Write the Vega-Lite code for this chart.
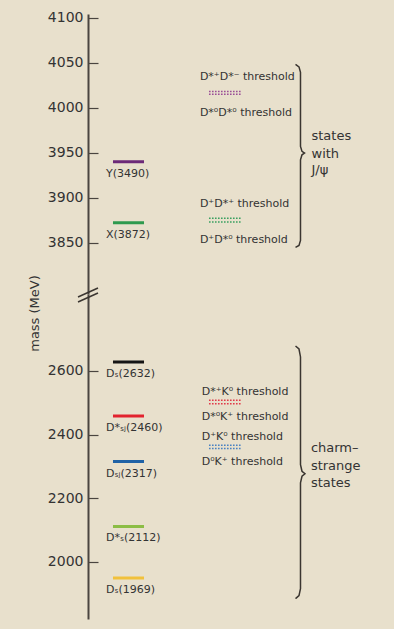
{
  "$schema": "https://vega.github.io/schema/vega-lite/v6.json",
  "background": "#e8e0cc",
  "padding": {"left": 27, "top": 10, "right": 6, "bottom": 11},
  "spacing": 0,
  "bounds": "flush",
  "resolve": {"scale": {"y": "independent", "color": "independent", "stroke": "independent"}},
  "config": {
    "font": "DejaVu Sans",
    "view": {"stroke": null},
    "axis": {
      "domainColor": "#4a4540", "domainWidth": 2,
      "tickColor": "#4a4540", "tickWidth": 1.2, "tickSize": -10,
      "labelColor": "#333333", "labelFont": "DejaVu Sans", "labelFontSize": 14, "labelPadding": 15,
      "grid": false,
      "titleColor": "#333333", "titleFont": "DejaVu Sans", "titleFontSize": 13, "titleFontWeight": "normal"
    }
  },
  "datasets": {
    "levelsTop": [
      {"state": "Y(3490)", "mass": 3940},
      {"state": "X(3872)", "mass": 3872}
    ],
    "levelsBottom": [
      {"state": "Dₛ(2632)", "mass": 2628},
      {"state": "D*ₛⱼ(2460)", "mass": 2458},
      {"state": "Dₛⱼ(2317)", "mass": 2315},
      {"state": "D*ₛ(2112)", "mass": 2111},
      {"state": "Dₛ(1969)", "mass": 1949}
    ],
    "thrTop": [
      {"label": "D*⁺D*⁻ threshold", "mass": 4018, "side": "above", "pair": "D*D*"},
      {"label": "D*⁰D*⁰ threshold", "mass": 4015, "side": "below", "pair": "D*D*"},
      {"label": "D⁺D*⁺ threshold", "mass": 3877, "side": "above", "pair": "DD*"},
      {"label": "D⁺D*⁰ threshold", "mass": 3873, "side": "below", "pair": "DD*"}
    ],
    "thrBottom": [
      {"label": "D*⁺K⁰ threshold", "mass": 2508, "side": "above", "pair": "D*K"},
      {"label": "D*⁰K⁺ threshold", "mass": 2497, "side": "below", "pair": "D*K"},
      {"label": "D⁺K⁰ threshold", "mass": 2366, "side": "above", "pair": "DK"},
      {"label": "D⁰K⁺ threshold", "mass": 2356, "side": "below", "pair": "DK"}
    ],
    "braceTop": [
      {"i": 1, "x": 69.17, "mass": 4048.1},
      {"i": 2, "x": 70.33, "mass": 4045.3},
      {"i": 3, "x": 70.83, "mass": 4039.2},
      {"i": 4, "x": 70.83, "mass": 3957.0},
      {"i": 5, "x": 71.33, "mass": 3951.4},
      {"i": 6, "x": 72.17, "mass": 3949.6},
      {"i": 7, "x": 71.33, "mass": 3947.6},
      {"i": 8, "x": 70.83, "mass": 3942.0},
      {"i": 9, "x": 70.83, "mass": 3852.6},
      {"i": 10, "x": 70.33, "mass": 3847.0},
      {"i": 11, "x": 69.17, "mass": 3844.8}
    ],
    "braceBottom": [
      {"i": 1, "x": 69.17, "mass": 2678.5},
      {"i": 2, "x": 70.33, "mass": 2669.0},
      {"i": 3, "x": 70.83, "mass": 2644.0},
      {"i": 4, "x": 70.83, "mass": 2305.0},
      {"i": 5, "x": 71.33, "mass": 2284.5},
      {"i": 6, "x": 72.33, "mass": 2276.6},
      {"i": 7, "x": 71.33, "mass": 2268.8},
      {"i": 8, "x": 70.83, "mass": 2248.4},
      {"i": 9, "x": 70.83, "mass": 1915.5},
      {"i": 10, "x": 70.33, "mass": 1893.6},
      {"i": 11, "x": 69.17, "mass": 1884.0}
    ],
    "groupTop": [
      {"word": "states", "mass": 3968},
      {"word": "with", "mass": 3949},
      {"word": "J/ψ", "mass": 3931}
    ],
    "groupBottom": [
      {"word": "charm–", "mass": 2358},
      {"word": "strange", "mass": 2302},
      {"word": "states", "mass": 2248}
    ],
    "axisBreak": [
      {"x": -3.33, "x2": 3.33, "mass": 2832.6, "mass2": 2860.8},
      {"x": -3.33, "x2": 3.33, "mass": 2816.9, "mass2": 2845.1}
    ]
  },
  "vconcat": [
    {
      "width": 300,
      "height": 280,
      "layer": [
        {
          "data": {"name": "levelsTop"},
          "mark": {"type": "rule", "strokeWidth": 3},
          "encoding": {
            "x": {"datum": 8.33, "type": "quantitative", "scale": {"domain": [0, 100], "nice": false, "zero": false}, "axis": null},
            "x2": {"datum": 18.67},
            "y": {"field": "mass", "type": "quantitative", "scale": {"domain": [3793, 4104], "nice": false, "zero": false},
                  "axis": {"values": [3850, 3900, 3950, 4000, 4050, 4100], "format": "d", "title": null}},
            "color": {"field": "state", "type": "nominal", "legend": null,
                      "scale": {"domain": ["Y(3490)", "X(3872)"], "range": ["#6c2a78", "#2e9a4e"]}}
          }
        },
        {
          "data": {"name": "levelsTop"},
          "mark": {"type": "text", "align": "left", "baseline": "middle", "dy": 12, "fontSize": 11, "color": "#333333"},
          "encoding": {
            "x": {"datum": 6, "type": "quantitative"},
            "y": {"field": "mass", "type": "quantitative"},
            "text": {"field": "state"}
          }
        },
        {
          "data": {"name": "thrTop"},
          "mark": {"type": "rule", "strokeWidth": 1.5, "strokeDash": [1.6, 1.4]},
          "encoding": {
            "x": {"datum": 40.33, "type": "quantitative"},
            "x2": {"datum": 51},
            "y": {"field": "mass", "type": "quantitative"},
            "stroke": {"field": "pair", "type": "nominal", "legend": null,
                       "scale": {"domain": ["D*D*", "DD*"], "range": ["#9a4f96", "#3aa060"]}}
          }
        },
        {
          "data": {"name": "thrTop"},
          "transform": [{"filter": "datum.side === 'above'"}],
          "mark": {"type": "text", "align": "left", "baseline": "middle", "dy": -14, "fontSize": 11, "color": "#333333"},
          "encoding": {
            "x": {"datum": 37.3, "type": "quantitative"},
            "y": {"field": "mass", "type": "quantitative"},
            "text": {"field": "label"}
          }
        },
        {
          "data": {"name": "thrTop"},
          "transform": [{"filter": "datum.side === 'below'"}],
          "mark": {"type": "text", "align": "left", "baseline": "middle", "dy": 18.5, "fontSize": 11, "color": "#333333"},
          "encoding": {
            "x": {"datum": 37.3, "type": "quantitative"},
            "y": {"field": "mass", "type": "quantitative"},
            "text": {"field": "label"}
          }
        },
        {
          "data": {"name": "braceTop"},
          "mark": {"type": "line", "strokeWidth": 1.5, "color": "#3a3530", "interpolate": "linear"},
          "encoding": {
            "x": {"field": "x", "type": "quantitative"},
            "y": {"field": "mass", "type": "quantitative"},
            "order": {"field": "i"}
          }
        },
        {
          "data": {"name": "groupTop"},
          "mark": {"type": "text", "align": "left", "baseline": "middle", "fontSize": 13, "color": "#333333"},
          "encoding": {
            "x": {"datum": 74.5, "type": "quantitative"},
            "y": {"field": "mass", "type": "quantitative"},
            "text": {"field": "word"}
          }
        }
      ]
    },
    {
      "width": 300,
      "height": 325,
      "layer": [
        {
          "data": {"name": "levelsBottom"},
          "mark": {"type": "rule", "strokeWidth": 3},
          "encoding": {
            "x": {"datum": 8.33, "type": "quantitative", "scale": {"domain": [0, 100], "nice": false, "zero": false}, "axis": null},
            "x2": {"datum": 18.67},
            "y": {"field": "mass", "type": "quantitative", "scale": {"domain": [1820, 2842], "nice": false, "zero": false},
                  "axis": {"values": [2000, 2200, 2400, 2600], "format": "d", "title": "mass (MeV)",
                           "titleX": -54, "titleY": 19, "titleAngle": -90, "titleAlign": "center", "titleBaseline": "middle"}},
            "color": {"field": "state", "type": "nominal", "legend": null,
                      "scale": {"domain": ["Dₛ(2632)", "D*ₛⱼ(2460)", "Dₛⱼ(2317)", "D*ₛ(2112)", "Dₛ(1969)"],
                                "range": ["#151515", "#e2232e", "#1f62a6", "#8cbd45", "#f1c13c"]}}
          }
        },
        {
          "data": {"name": "levelsBottom"},
          "mark": {"type": "text", "align": "left", "baseline": "middle", "dy": 12, "fontSize": 11, "color": "#333333"},
          "encoding": {
            "x": {"datum": 6, "type": "quantitative"},
            "y": {"field": "mass", "type": "quantitative"},
            "text": {"field": "state"}
          }
        },
        {
          "data": {"name": "thrBottom"},
          "mark": {"type": "rule", "strokeWidth": 1.5, "strokeDash": [1.6, 1.4]},
          "encoding": {
            "x": {"datum": 40.33, "type": "quantitative"},
            "x2": {"datum": 51},
            "y": {"field": "mass", "type": "quantitative"},
            "stroke": {"field": "pair", "type": "nominal", "legend": null,
                       "scale": {"domain": ["D*K", "DK"], "range": ["#e03a4a", "#4a82c2"]}}
          }
        },
        {
          "data": {"name": "thrBottom"},
          "transform": [{"filter": "datum.side === 'above'"}],
          "mark": {"type": "text", "align": "left", "baseline": "middle", "dy": -8, "fontSize": 11, "color": "#333333"},
          "encoding": {
            "x": {"datum": 37.9, "type": "quantitative"},
            "y": {"field": "mass", "type": "quantitative"},
            "text": {"field": "label"}
          }
        },
        {
          "data": {"name": "thrBottom"},
          "transform": [{"filter": "datum.side === 'below'"}],
          "mark": {"type": "text", "align": "left", "baseline": "middle", "dy": 13, "fontSize": 11, "color": "#333333"},
          "encoding": {
            "x": {"datum": 37.9, "type": "quantitative"},
            "y": {"field": "mass", "type": "quantitative"},
            "text": {"field": "label"}
          }
        },
        {
          "data": {"name": "braceBottom"},
          "mark": {"type": "line", "strokeWidth": 1.5, "color": "#3a3530", "interpolate": "linear"},
          "encoding": {
            "x": {"field": "x", "type": "quantitative"},
            "y": {"field": "mass", "type": "quantitative"},
            "order": {"field": "i"}
          }
        },
        {
          "data": {"name": "groupBottom"},
          "mark": {"type": "text", "align": "left", "baseline": "middle", "fontSize": 13, "color": "#333333"},
          "encoding": {
            "x": {"datum": 74.3, "type": "quantitative"},
            "y": {"field": "mass", "type": "quantitative"},
            "text": {"field": "word"}
          }
        },
        {
          "data": {"name": "axisBreak"},
          "mark": {"type": "rule", "strokeWidth": 1.5, "color": "#3a3530"},
          "encoding": {
            "x": {"field": "x", "type": "quantitative"},
            "x2": {"field": "x2"},
            "y": {"field": "mass", "type": "quantitative"},
            "y2": {"field": "mass2"}
          }
        }
      ]
    }
  ]
}
